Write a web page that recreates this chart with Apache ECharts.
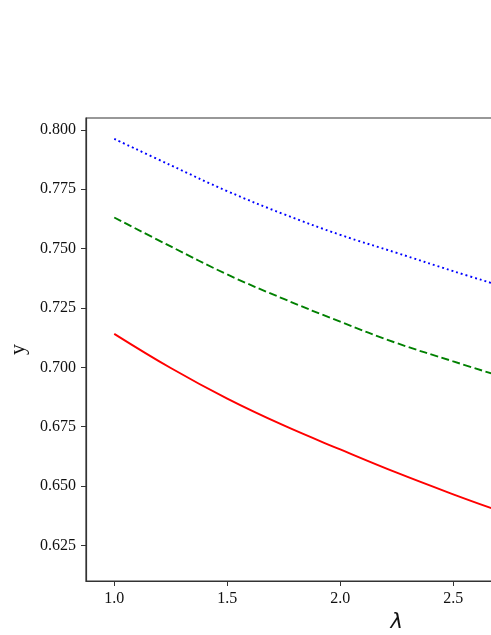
<!DOCTYPE html>
<html>
<head>
<meta charset="utf-8">
<script src="https://cdn.jsdelivr.net/npm/echarts@6/dist/echarts.min.js"></script>
<style>
html,body{margin:0;padding:0;background:#fff;}
#chart{width:491px;height:635px;}
</style>
</head>
<body>
<div id="chart"></div>
<script>
var lambdas = [1.0, 1.25, 1.5, 1.75, 2.0, 2.25, 2.5, 2.7];
var blueDotted = [0.7962, 0.7851, 0.7742, 0.7645, 0.7558, 0.7482, 0.7405, 0.7346];
var greenDashed = [0.7631, 0.7509, 0.7391, 0.7288, 0.7192, 0.7102, 0.7025, 0.6965];
var redSolid = [0.7141, 0.6997, 0.6868, 0.6755, 0.6654, 0.6556, 0.6465, 0.6396];
var xTicks = [1.0, 1.5, 2.0, 2.5, 3.0, 3.5];
var yTicks = [0.625, 0.650, 0.675, 0.700, 0.725, 0.750, 0.775, 0.800];

function pairs(xs, ys) { return xs.map(function (x, i) { return [x, ys[i]]; }); }

var chart = echarts.init(document.getElementById('chart'), null, {renderer: 'canvas'});
var axisColor = '#333333';
var labelFont = {fontFamily: 'Liberation Serif', fontSize: 16, color: '#111'};
chart.setOption({
  animation: false,
  backgroundColor: '#ffffff',
  grid: {left: 86, top: 118, width: 621.5, height: 463, outerBoundsMode: 'none', containLabel: false,
         show: true, borderColor: axisColor, borderWidth: 1.2, backgroundColor: 'transparent'},
  xAxis: {
    type: 'value', min: 0.875, max: 3.625,
    name: 'λ', nameLocation: 'middle', nameGap: 22,
    nameTextStyle: {fontFamily: 'DejaVu Sans', fontStyle: 'italic', fontSize: 21, color: '#111'},
    axisLine: {show: true, onZero: false, lineStyle: {color: axisColor, width: 1.2}},
    axisTick: {show: true, inside: false, length: 5, lineStyle: {color: axisColor, width: 1}, customValues: xTicks},
    axisLabel: Object.assign({margin: 10, customValues: xTicks, formatter: function (v) { return v.toFixed(1); }}, labelFont),
    splitLine: {show: false}
  },
  yAxis: {
    type: 'value', min: 0.610, max: 0.805,
    name: 'y', nameLocation: 'middle', nameGap: 57, nameRotate: 90,
    nameTextStyle: {fontFamily: 'Liberation Serif', fontSize: 22, color: '#111'},
    axisLine: {show: true, onZero: false, lineStyle: {color: axisColor, width: 1.2}},
    axisTick: {show: true, inside: false, length: 5, lineStyle: {color: axisColor, width: 1}, customValues: yTicks},
    axisLabel: Object.assign({margin: 10, customValues: yTicks, formatter: function (v) { return v.toFixed(3); }}, labelFont),
    splitLine: {show: false}
  },
  series: [
    {type: 'line', data: pairs(lambdas, blueDotted), smooth: 0.4, symbol: 'none', clip: true,
     lineStyle: {color: '#0000ff', width: 1.9, type: [1.9, 3.0]}},
    {type: 'line', data: pairs(lambdas, greenDashed), smooth: 0.4, symbol: 'none', clip: true,
     lineStyle: {color: '#008000', width: 1.9, type: [8, 3.5]}},
    {type: 'line', data: pairs(lambdas, redSolid), smooth: 0.4, symbol: 'none', clip: true,
     lineStyle: {color: '#ff0000', width: 1.9}}
  ]
});
</script>
</body>
</html>
